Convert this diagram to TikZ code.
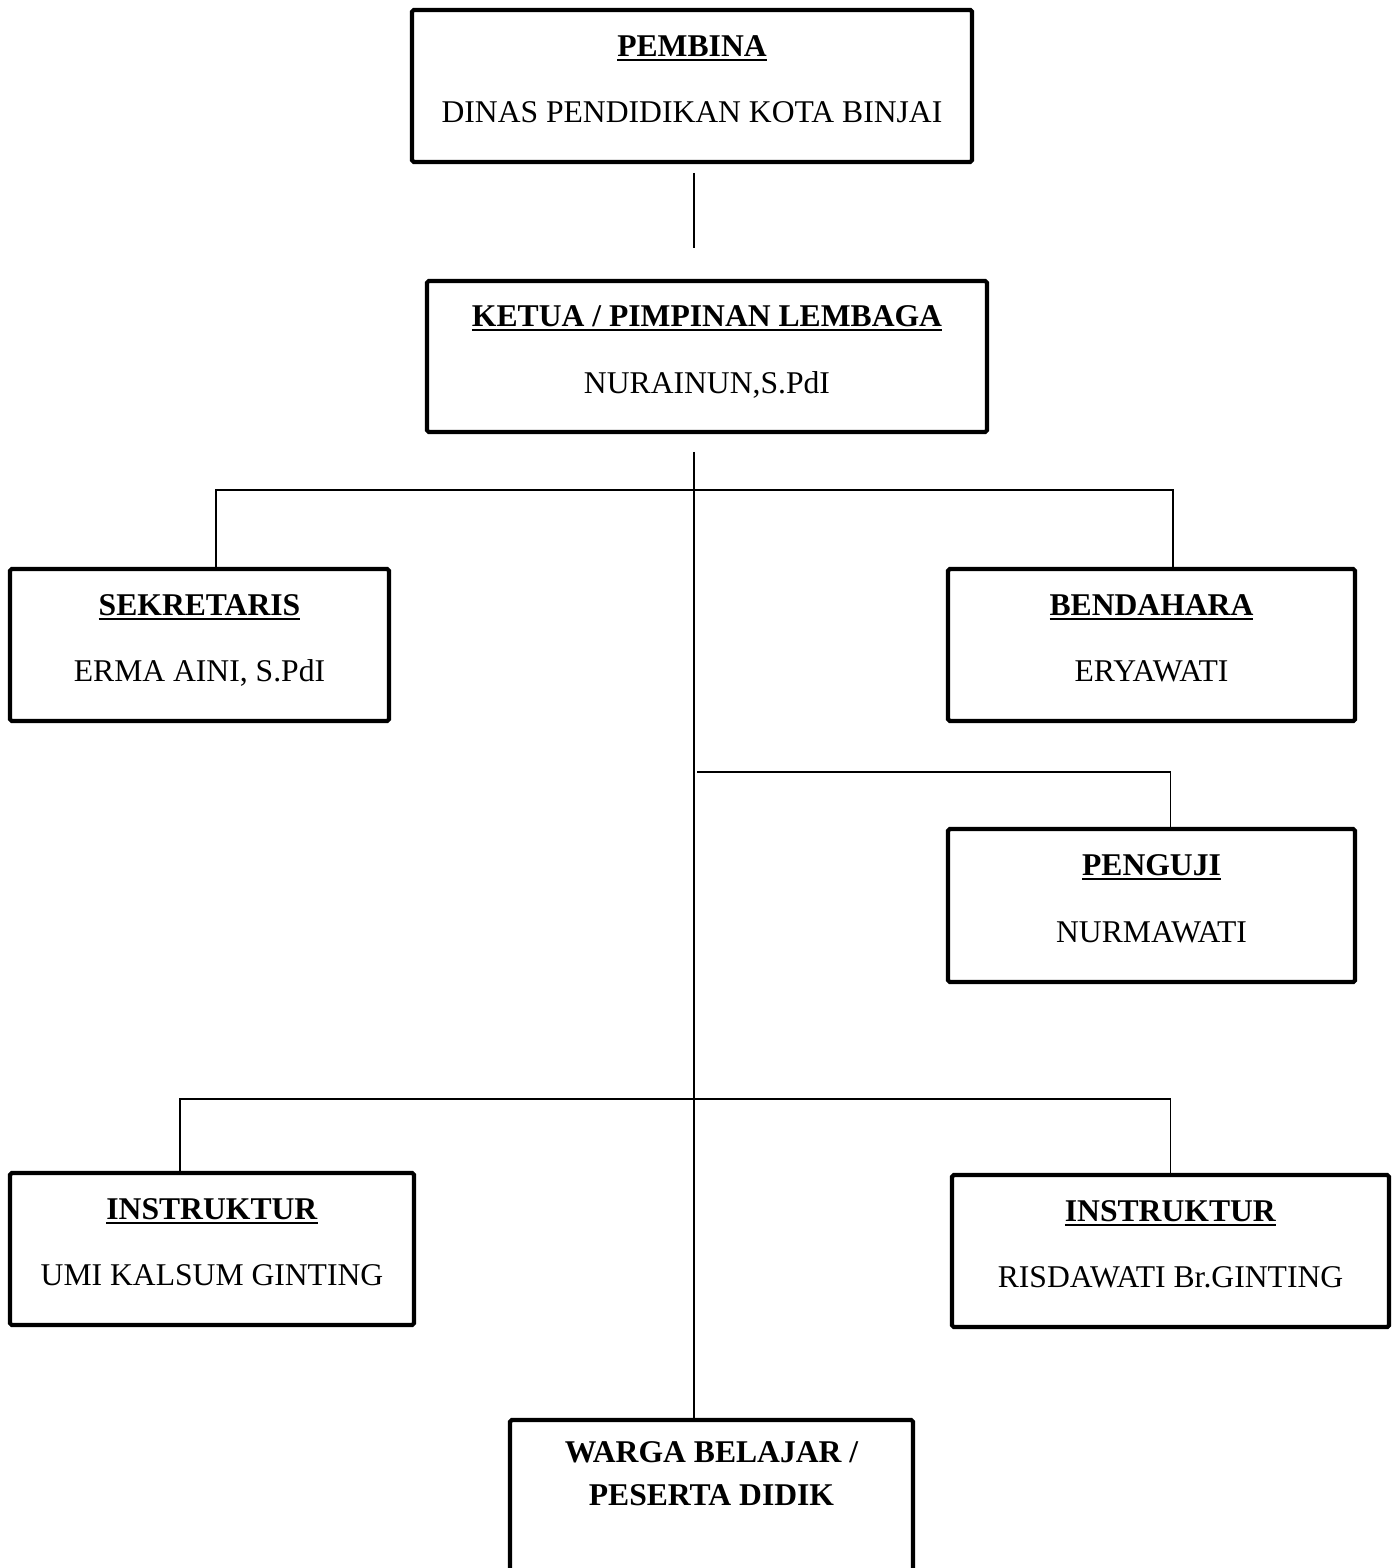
\documentclass[tikz,border=0pt]{standalone}
\usepackage{fontspec}
\setmainfont{Liberation Serif}
\usetikzlibrary{positioning}

% bold title with a heavier underline
\newcommand{\titul}[1]{\setbox0\hbox{\textbf{#1}}\rlap{\rule[-2.6pt]{\wd0}{1pt}}\box0}

\begin{document}
\begin{tikzpicture}[
    box/.style={draw, line width=2.4pt, rounded corners=1pt, minimum height=3.04cm, align=center, text depth=8pt, font=\fontsize{18}{22}\selectfont},
    link/.style={line width=1.1pt}
  ]
    \clip (0,0) rectangle (27.94,-31.36);
    \node[box, minimum width=11.2cm] (pembina) at (13.84,-1.72) {\titul{PEMBINA}\\[16pt]DINAS PENDIDIKAN KOTA BINJAI};
    \node[box, minimum width=11.2cm, minimum height=3.02cm] (ketua) at (14.14,-7.13) {\titul{KETUA / PIMPINAN LEMBAGA}\\[16pt]NURAINUN,S.PdI};
    \node[box, minimum width=7.58cm] (sekretaris) at (3.99,-12.9) {\titul{SEKRETARIS}\\[16pt]ERMA AINI, S.PdI};
    \node[box, minimum width=8.14cm] (bendahara) at (23.03,-12.9) {\titul{BENDAHARA}\\[16pt]ERYAWATI};
    \node[box, minimum width=8.14cm, minimum height=3.06cm] (penguji) at (23.03,-18.11) {\titul{PENGUJI}\\[16pt]NURMAWATI};
    \node[box, minimum width=8.08cm] (instrkiri) at (4.24,-24.98) {\titul{INSTRUKTUR}\\[16pt]UMI KALSUM GINTING};
    \node[box, minimum width=8.74cm] (instrkanan) at (23.41,-25.02) {\titul{INSTRUKTUR}\\[16pt]RISDAWATI Br.GINTING};
    \node[box, minimum width=8.06cm, minimum height=4cm] (warga) at (14.23,-30.4) {};
    \node[font=\bfseries\fontsize{18}{24.5}\selectfont, align=center, anchor=north, inner sep=0pt] (wargateks) at ([yshift=-0.46cm]warga.north) {WARGA BELAJAR /\\PESERTA DIDIK};

    % garis penghubung
    \coordinate (celahatas) at (13.88,-3.46);
    \coordinate (celahbawah) at (13.88,-4.96);
    \draw[link] (celahatas) -- (celahbawah);
    \coordinate (tulang) at (13.88,-9.04);
    \draw[link] (tulang) -- (tulang |- warga.north);
    \draw[link] ([xshift=.33cm]sekretaris.north) -- ++(0,1.54) -| ([xshift=.43cm]bendahara.north);
    \coordinate (cabang) at (13.94,-15.44);
    \draw[link] (cabang) -| ([xshift=.38cm]penguji.north);
    \draw[link] ([xshift=-.64cm]instrkiri.north) -- ++(0,1.44) -| (instrkanan.north);
\end{tikzpicture}
\end{document}
